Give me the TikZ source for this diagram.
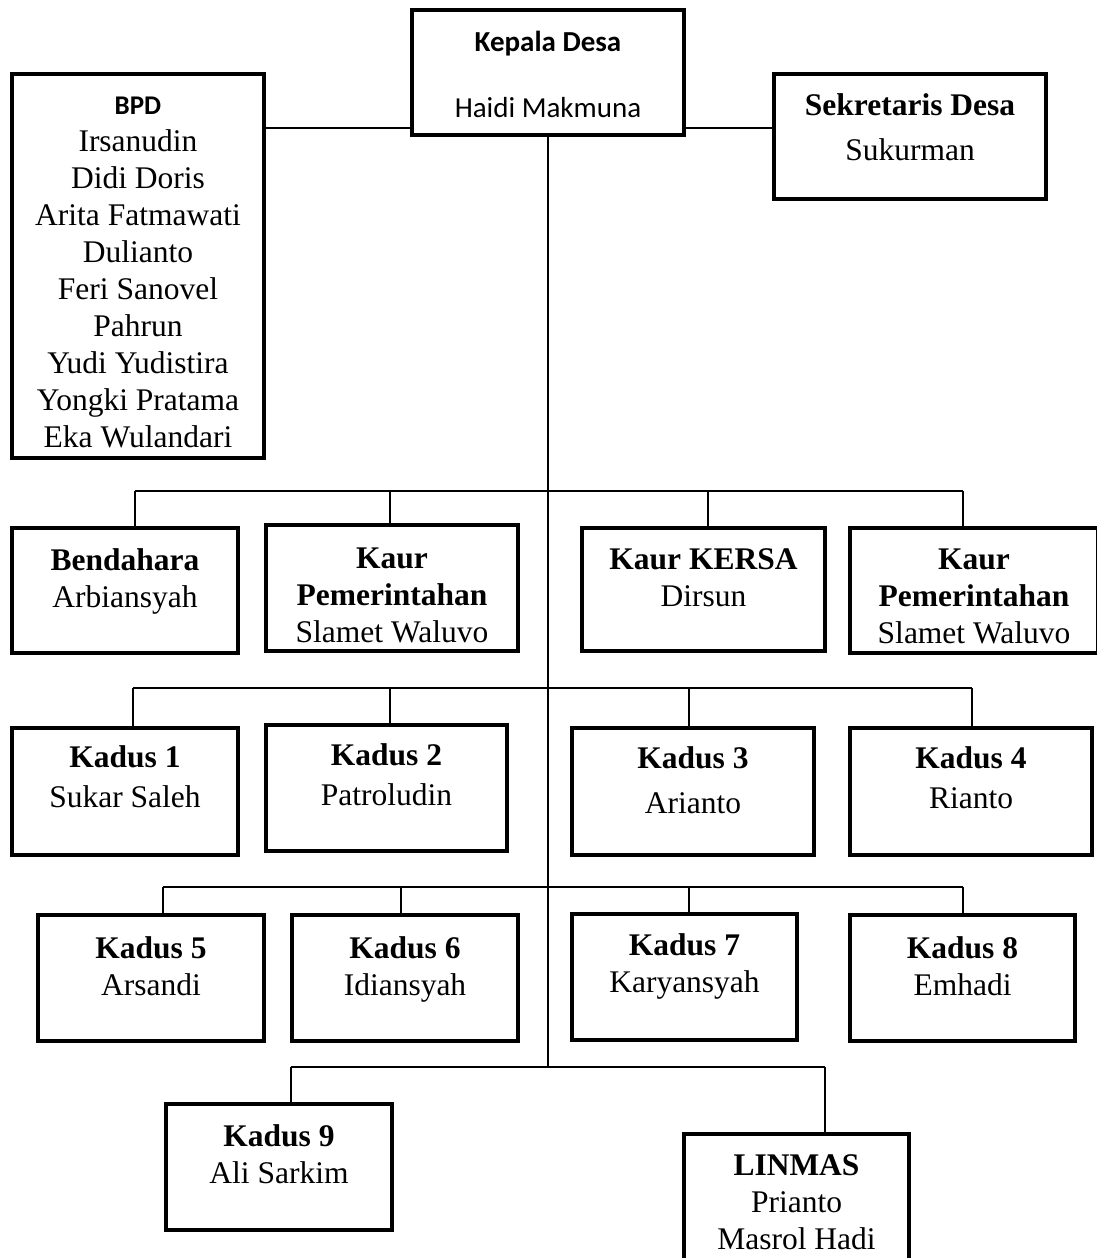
\documentclass[tikz,border=0pt]{standalone}
\usepackage{fontspec}
\setmainfont{Liberation Serif}
\newfontfamily\calibri{Carlito}
\begin{document}
\begin{tikzpicture}[x=1pt, y=-1pt]
\tikzstyle{box}=[draw, line width=4pt, inner sep=0pt]
\tikzstyle{txt}=[align=center, font=\fontsize{31.5}{37}\selectfont]
\tikzstyle{wire}=[line width=1.3pt]
\clip (0,0) rectangle (1097,1258);
% top level
\node [box, minimum width=272pt, minimum height=125pt] (kades) at (548,72.5) {};
\node [box, minimum width=252pt, minimum height=384pt] (bpd) at (138,266) {};
\node [box, minimum width=272pt, minimum height=125pt] (sekdes) at (910,136.5) {};
\node [txt, font=\calibri\fontsize{29}{66}\selectfont] (kadesT) at (548,74) {\textbf{Kepala Desa}\\Haidi Makmuna};
\node [txt] (bpdT) at (138,272) {{\calibri\bfseries\fontsize{27}{37}\selectfont BPD}\\Irsanudin\\Didi Doris\\Arita Fatmawati\\Dulianto\\Feri Sanovel\\Pahrun\\Yudi Yudistira\\Yongki Pratama\\Eka Wulandari};
\node [txt] (sekdesT) at (910,127) {\textbf{Sekretaris Desa}\\[8pt]Sukurman};
% staf
\node [box, minimum width=226pt, minimum height=125pt] (bend) at (125,590.5) {};
\node [box, minimum width=252pt, minimum height=126pt] (kaurA) at (392,588) {};
\node [box, minimum width=243pt, minimum height=123pt] (kersa) at (703.5,589.5) {};
\node [box, minimum width=248pt, minimum height=125pt] (kaurB) at (974,590.5) {};
\node [txt] (bendT) at (125,581) {\textbf{Bendahara}\\Arbiansyah};
\node [txt] (kaurAT) at (392,595) {\textbf{Kaur}\\\textbf{Pemerintahan}\\Slamet Waluvo};
\node [txt] (kersaT) at (703.5,577.5) {\textbf{Kaur KERSA}\\Dirsun};
\node [txt] (kaurBT) at (974,596) {\textbf{Kaur}\\\textbf{Pemerintahan}\\Slamet Waluvo};
% kadus 1-4
\node [box, minimum width=226pt, minimum height=127pt] (kd1) at (125,791.5) {};
\node [box, minimum width=241pt, minimum height=126pt] (kd2) at (386.5,788) {};
\node [box, minimum width=242pt, minimum height=127pt] (kd3) at (693,791.5) {};
\node [box, minimum width=242pt, minimum height=127pt] (kd4) at (971,791.5) {};
\node [txt] (kd1T) at (125,777) {\textbf{Kadus 1}\\[3pt]Sukar Saleh};
\node [txt] (kd2T) at (386.5,775) {\textbf{Kadus 2}\\[3pt]Patroludin};
\node [txt] (kd3T) at (693,780) {\textbf{Kadus 3}\\[8pt]Arianto};
\node [txt] (kd4T) at (971,778) {\textbf{Kadus 4}\\[3pt]Rianto};
% kadus 5-8
\node [box, minimum width=226pt, minimum height=126pt] (kd5) at (151,978) {};
\node [box, minimum width=226pt, minimum height=126pt] (kd6) at (405,978) {};
\node [box, minimum width=225pt, minimum height=126pt] (kd7) at (684.5,977) {};
\node [box, minimum width=225pt, minimum height=126pt] (kd8) at (962.5,978) {};
\node [txt] (kd5T) at (151,966) {\textbf{Kadus 5}\\Arsandi};
\node [txt] (kd6T) at (405,969) {\textbf{Kadus 6}\\Idiansyah};
\node [txt] (kd7T) at (684.5,966.5) {\textbf{Kadus 7}\\Karyansyah};
\node [txt] (kd8T) at (962.5,966) {\textbf{Kadus 8}\\Emhadi};
% kadus 9, linmas
\node [box, minimum width=226pt, minimum height=126pt] (kd9) at (279,1167) {};
\node [box, minimum width=225pt, minimum height=156pt] (linmas) at (796.5,1212) {};
\node [txt] (kd9T) at (279,1154) {\textbf{Kadus 9}\\Ali Sarkim};
\node [txt] (linmasT) at (796.5,1202) {\textbf{LINMAS}\\Prianto\\Masrol Hadi};
% bus lines
\coordinate (lv0) at (548,128);
\coordinate (b1a) at (135,491); \coordinate (b1b) at (390,491);
\coordinate (b1c) at (708,491); \coordinate (b1d) at (963,491);
\coordinate (b2a) at (133,688); \coordinate (b2b) at (390,688);
\coordinate (b2c) at (689,688); \coordinate (b2d) at (972,688);
\coordinate (b3a) at (163,887); \coordinate (b3b) at (401,887);
\coordinate (b3c) at (689,887); \coordinate (b3d) at (963,887);
\coordinate (b4a) at (291,1067); \coordinate (b4b) at (825,1067);
\draw [wire] (bpd.east |- lv0) -- (kades.west |- lv0)
(kades.east |- lv0) -- (sekdes.west |- lv0)
(kades.south) -- (kades.south |- b4a)
(b1a) -- (b1d)
(b1a) -- (b1a |- bend.north)
(b1b) -- (b1b |- kaurA.north)
(b1c) -- (b1c |- kersa.north)
(b1d) -- (b1d |- kaurB.north)
(b2a) -- (b2d)
(b2a) -- (b2a |- kd1.north)
(b2b) -- (b2b |- kd2.north)
(b2c) -- (b2c |- kd3.north)
(b2d) -- (b2d |- kd4.north)
(b3a) -- (b3d)
(b3a) -- (b3a |- kd5.north)
(b3b) -- (b3b |- kd6.north)
(b3c) -- (b3c |- kd7.north)
(b3d) -- (b3d |- kd8.north)
(b4a) -- (b4b)
(b4a) -- (b4a |- kd9.north)
(b4b) -- (b4b |- linmas.north)
;
\end{tikzpicture}
\end{document}
